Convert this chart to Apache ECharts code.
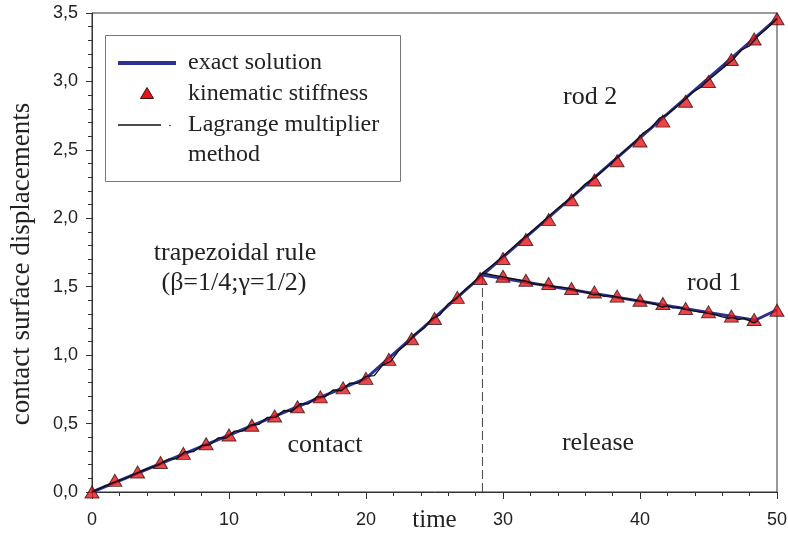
<!DOCTYPE html>
<html><head><meta charset="utf-8">
<script src="https://cdn.jsdelivr.net/npm/echarts@6/dist/echarts.min.js"></script>
<style>html,body{margin:0;padding:0;background:#fff}#c{width:788px;height:537px}</style>
</head><body><div id="c"></div>
<script>
// exact solution (blue)
const exactRod2Time = [0, 20, 28.5, 50];
const exactRod2Val  = [0, 0.83, 1.585, 3.46];
const exactRod1Time = [28.5, 48.4, 50];
const exactRod1Val  = [1.585, 1.255, 1.33];

// kinematic stiffness (triangles)
const kinTime = [0,1.67,3.33,5,6.67,8.33,10,11.67,13.33,15,16.67,18.33,20,21.67,23.33,25,26.67,28.33,30,31.67,33.33,35,36.67,38.33,40,41.67,43.33,45,46.67,48.33,50];
const kinRod2 = [0,0.085,0.146,0.215,0.282,0.353,0.416,0.488,0.555,0.623,0.695,0.761,0.83,0.969,1.12,1.268,1.422,1.56,1.706,1.845,1.99,2.135,2.28,2.42,2.565,2.71,2.855,3.0,3.16,3.31,3.458];
const kinRod1Time = [30,31.67,33.33,35,36.67,38.33,40,41.67,43.33,45,46.67,48.33,50];
const kinRod1 = [1.577,1.547,1.523,1.487,1.462,1.431,1.401,1.377,1.341,1.316,1.285,1.26,1.328];

// Lagrange multiplier method (black)
const lagRod2Time = [0,0.8,1.6,2.4,3.2,4.0,4.8,5.6,6.2,6.8,7.4,8.0,8.6,9.2,9.8,10.4,11.0,11.6,12.2,12.8,13.4,14.0,14.6,15.2,15.8,16.4,17.0,17.6,18.2,18.8,19.4,20.0,20.6,21.2,21.8,22.4,23.0,23.6,24.2,24.8,25.4,26.0,26.6,27.2,27.8,28.5,29.2,29.9,30.6,31.3,32.0,32.7,33.4,34.1,34.8,35.5,36.0,36.6,37.2,37.8,38.4,39.0,39.6,40.2,40.8,41.4,42.0,42.6,43.2,43.8,44.4,45.0,45.6,46.2,46.8,47.4,48.0,48.6,49.3,50.0];
const lagRod2Val  = [0,0.035,0.07,0.098,0.135,0.168,0.196,0.24,0.245,0.295,0.295,0.34,0.345,0.395,0.395,0.445,0.445,0.49,0.495,0.545,0.545,0.595,0.59,0.645,0.645,0.695,0.695,0.745,0.74,0.795,0.795,0.845,0.85,0.925,0.955,1.035,1.085,1.155,1.195,1.265,1.295,1.375,1.415,1.475,1.525,1.60,1.655,1.715,1.775,1.84,1.895,1.955,2.02,2.08,2.135,2.2,2.25,2.29,2.34,2.395,2.45,2.505,2.555,2.62,2.66,2.73,2.76,2.81,2.86,2.92,2.955,3.01,3.06,3.11,3.16,3.23,3.26,3.33,3.39,3.46];
const lagRod1Time = [28.5,29.3,30.1,30.9,31.7,32.3,32.8,33.3,33.8,34.4,35.0,35.6,36.2,36.6,37.0,37.4,37.8,38.3,38.8,39.4,40.0,40.6,41.2,41.6,42.0,42.4,42.8,43.3,43.8,44.4,45.0,45.5,46.0,46.4,46.8,47.2,47.6,48.0,48.3,48.6];
const lagRod1Val  = [1.60,1.585,1.57,1.555,1.54,1.52,1.515,1.51,1.50,1.495,1.483,1.47,1.455,1.44,1.445,1.43,1.435,1.425,1.415,1.405,1.395,1.385,1.37,1.35,1.36,1.345,1.35,1.335,1.325,1.315,1.305,1.295,1.28,1.27,1.275,1.26,1.27,1.25,1.235,1.25];

// release marker
const releaseTime = [28.5, 28.5];
const releaseVal = [0, 1.585];

const xTicks = {min:0, max:50, interval:10};
const yTicks = {min:0, max:3.5, interval:0.5};

const zip = (a,b) => a.map((v,i)=>[v,b[i]]);
const serif = 'Liberation Serif';
const sans = 'Liberation Sans';
const BLUE = '#2e3192';

const chart = echarts.init(document.getElementById('c'), null, {renderer:'canvas'});
chart.setOption({
  animation:false,
  backgroundColor:'#fff',
  grid:{left:92, right:11, top:13, bottom:45, containLabel:false, outerBoundsMode:'none',
    show:true, borderColor:'#333', borderWidth:1, backgroundColor:'transparent'},
  xAxis:{type:'value', min:xTicks.min, max:xTicks.max, interval:xTicks.interval,
    name:'time', nameLocation:'middle', nameGap:16, nameMoveOverlap:false,
    nameTextStyle:{fontFamily:serif, fontSize:25, color:'#222'},
    axisLine:{lineStyle:{color:'#333', width:1}},
    axisTick:{show:true, length:7, lineStyle:{color:'#333'}},
    minorTick:{show:true, splitNumber:5, length:4, lineStyle:{color:'#333'}},
    splitLine:{show:false},
    axisLabel:{fontFamily:sans, fontSize:18, color:'#222', margin:19}
  },
  yAxis:{type:'value', min:yTicks.min, max:yTicks.max, interval:yTicks.interval,
    axisLine:{show:true, lineStyle:{color:'#333', width:1}},
    axisTick:{show:true, length:6, lineStyle:{color:'#333'}},
    minorTick:{show:true, splitNumber:5, length:4, lineStyle:{color:'#333'}},
    splitLine:{show:false},
    axisLabel:{fontFamily:sans, fontSize:18, color:'#222', margin:14,
      formatter:v=>v.toFixed(1).replace('.', ',')}
  },
  series:[
    {type:'line', data:zip(releaseTime, releaseVal), symbol:'none', z:1,
      lineStyle:{color:'#444', width:1, type:[9,4]}},
    {type:'line', data:zip(exactRod2Time, exactRod2Val), symbol:'none', z:2,
      lineStyle:{color:BLUE, width:3}},
    {type:'line', data:zip(exactRod1Time, exactRod1Val), symbol:'none', z:2,
      lineStyle:{color:BLUE, width:3}},
    {type:'scatter', data:zip(kinTime, kinRod2), symbol:'triangle', symbolSize:[14,12], z:3, clip:false,
      itemStyle:{color:'#e8151b', borderColor:'#3a1212', borderWidth:1}},
    {type:'scatter', data:zip(kinRod1Time, kinRod1), symbol:'triangle', symbolSize:[14,12], z:3, clip:false,
      itemStyle:{color:'#e8151b', borderColor:'#3a1212', borderWidth:1}},
    {type:'line', data:zip(lagRod2Time, lagRod2Val), symbol:'none', z:4,
      lineStyle:{color:'#111', width:1.4}},
    {type:'line', data:zip(lagRod1Time, lagRod1Val), symbol:'none', z:4,
      lineStyle:{color:'#111', width:1.4}}
  ],
  graphic:[
    {type:'text', x:22, y:264, rotation:Math.PI/2, style:{text:'contact surface displacements', fontFamily:serif, fontSize:27, fill:'#222', align:'center', verticalAlign:'middle'}, z:11},
    {type:'rect', shape:{x:105.5, y:35.5, width:295, height:146}, style:{fill:'#fff', stroke:'#777', lineWidth:1}, z:10},
    {type:'line', shape:{x1:118, y1:63, x2:176, y2:63}, style:{stroke:BLUE, lineWidth:4}, z:11},
    {type:'text', x:188, y:63, style:{text:'exact solution', fontFamily:serif, fontSize:24, fill:'#222', verticalAlign:'middle'}, z:11},
    {type:'polygon', shape:{points:[[147,87.5],[153.5,98.5],[140.5,98.5]]}, style:{fill:'#e8151b', stroke:'#3a1212', lineWidth:1}, z:11},
    {type:'text', x:188, y:94, style:{text:'kinematic stiffness', fontFamily:serif, fontSize:24, fill:'#222', verticalAlign:'middle'}, z:11},
    {type:'line', shape:{x1:118, y1:125, x2:161, y2:125}, style:{stroke:'#111', lineWidth:1.5}, z:11},
    {type:'circle', shape:{cx:170, cy:125.5, r:0.8}, style:{fill:'#111'}, z:11},
    {type:'text', x:188, y:125, style:{text:'Lagrange multiplier', fontFamily:serif, fontSize:24, fill:'#222', verticalAlign:'middle'}, z:11},
    {type:'text', x:188, y:155, style:{text:'method', fontFamily:serif, fontSize:24, fill:'#222', verticalAlign:'middle'}, z:11},
    {type:'text', x:563, y:97, style:{text:'rod 2', fontFamily:serif, fontSize:26, fill:'#222', verticalAlign:'middle'}, z:11},
    {type:'text', x:687, y:283, style:{text:'rod 1', fontFamily:serif, fontSize:26, fill:'#222', verticalAlign:'middle'}, z:11},
    {type:'text', x:235, y:253, style:{text:'trapezoidal rule', fontFamily:serif, fontSize:26, fill:'#222', align:'center', verticalAlign:'middle'}, z:11},
    {type:'text', x:234, y:283, style:{text:'(β=1/4;γ=1/2)', fontFamily:serif, fontSize:26, fill:'#222', align:'center', verticalAlign:'middle'}, z:11},
    {type:'text', x:325, y:445, style:{text:'contact', fontFamily:serif, fontSize:26, fill:'#222', align:'center', verticalAlign:'middle'}, z:11},
    {type:'text', x:598, y:443, style:{text:'release', fontFamily:serif, fontSize:26, fill:'#222', align:'center', verticalAlign:'middle'}, z:11}
  ]
});
</script></body></html>
